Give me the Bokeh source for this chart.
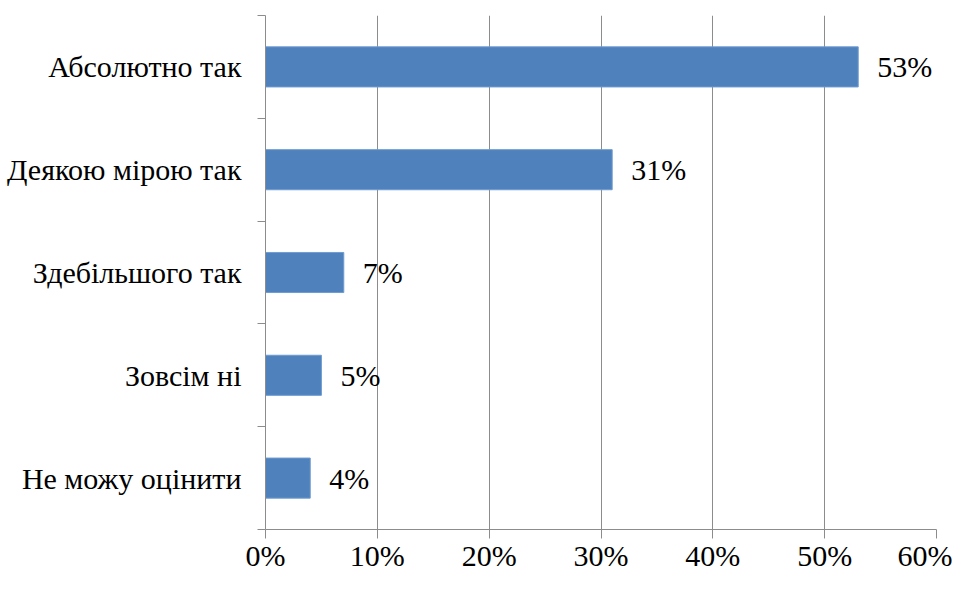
from bokeh.plotting import figure
from bokeh.models import Range1d, FixedTicker, PrintfTickFormatter, ColumnDataSource
from bokeh.core.properties import value
from bokeh.embed import file_html
from bokeh.resources import INLINE

categories = ["Абсолютно так", "Деякою мірою так", "Здебільшого так", "Зовсім ні", "Не можу оцінити"]
values = [53, 31, 7, 5, 4]
x_ticks = [0, 10, 20, 30, 40, 50, 60]

n = len(categories)
ypos = [n - i - 0.5 for i in range(n)]
labels = [f"{v}%" for v in values]
src = ColumnDataSource(dict(y=ypos, v=values, lab=labels))

FONT = "'Liberation Serif', 'Times New Roman', serif"
GRAY = "#8c8c8c"

p = figure(width=952, height=574, output_backend="svg", toolbar_location=None,
           x_range=Range1d(0, 60), y_range=Range1d(0, n),
           min_border_left=265, min_border_right=16, min_border_top=15, min_border_bottom=41)
p.outline_line_color = None
p.background_fill_color = "white"
p.border_fill_color = "white"

p.hbar(y="y", right="v", left=0, height=0.39, source=src, fill_color="#4F81BD",
       line_color="#6f9bd1", line_width=1)
p.text(x="v", y="y", text="lab", source=src, x_offset=19, text_baseline="middle",
       text_align="left", text_font=value(FONT), text_font_size="30px", text_color="black")

# x axis
p.xaxis.ticker = FixedTicker(ticks=x_ticks)
p.xaxis.formatter = PrintfTickFormatter(format="%d%%")
p.xaxis.major_label_text_font = FONT
p.xaxis.major_label_text_font_size = "30px"
p.xaxis.major_label_text_color = "black"
p.xaxis.major_tick_out = 9
p.xaxis.major_tick_in = 0
p.xaxis.minor_tick_out = 0
p.xaxis.minor_tick_in = 0
p.xaxis.axis_line_color = GRAY
p.xaxis.major_tick_line_color = GRAY
p.xaxis.major_label_standoff = 0

# y axis
p.yaxis.ticker = FixedTicker(ticks=ypos, minor_ticks=list(range(n + 1)))
p.yaxis.major_label_overrides = {y: c for y, c in zip(ypos, categories)}
p.yaxis.major_label_text_font = FONT
p.yaxis.major_label_text_font_size = "30px"
p.yaxis.major_label_text_color = "black"
p.yaxis.major_tick_out = 0
p.yaxis.major_tick_in = 0
p.yaxis.minor_tick_out = 8
p.yaxis.minor_tick_in = 0
p.yaxis.minor_tick_line_color = GRAY
p.yaxis.axis_line_color = GRAY
p.yaxis.major_label_standoff = 16

p.xgrid.ticker = FixedTicker(ticks=x_ticks)
p.xgrid.grid_line_color = GRAY
p.xgrid.grid_line_width = 1
p.ygrid.grid_line_color = None

open("out.html", "w").write(file_html(p, INLINE))
